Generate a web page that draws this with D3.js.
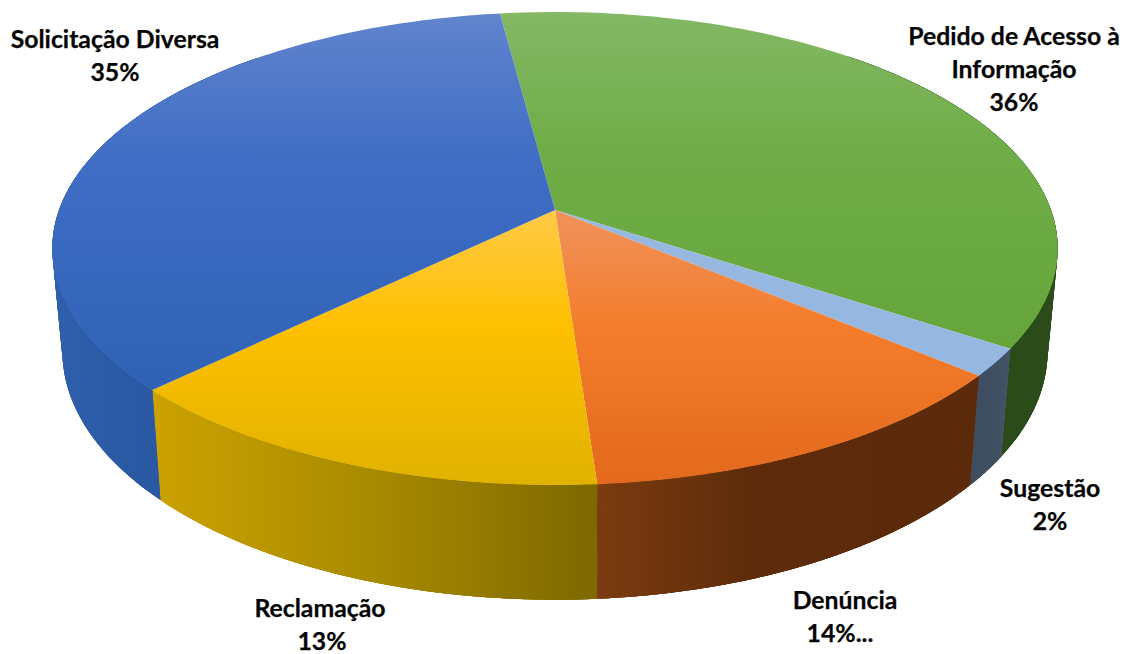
<!DOCTYPE html>
<html><head><meta charset="utf-8">
<script src="https://cdn.jsdelivr.net/npm/d3@7/dist/d3.min.js"></script>
<style>html,body{margin:0;background:#fff}svg{display:block}text{font-family:Lato,"Open Sans",sans-serif;font-weight:700;font-size:24.8px;fill:#050505;stroke:#050505;stroke-width:0.25px;text-anchor:middle}</style>
</head><body><svg id="c" width="1126" height="654"></svg>
<script>
// data
const categories = ["Pedido de Acesso à Informação","Sugestão","Denúncia","Reclamação","Solicitação Diversa"];
const sliceValues = [36.3,1.9,12.72,13.93,35.15];
const labelLines = [["Pedido de Acesso à","Informação","36%"],["Sugestão","2%"],["Denúncia","14%..."],["Reclamação","13%"],["Solicitação Diversa","35%"]];
// styles
const topStops = [["#84b865","#70ad48","#65a53a"],["#95b7e0","#95b7e0","#95b7e0"],["#f0925c","#f47d2c","#e3691c"],["#ffca48","#fec000","#e0b200"],["#6184cd","#3f6dc4","#2f62b5"]];
const sideStops = [["#27451a","#2a4a18","#2b4c1a"],["#3e4e60","#3f5062","#435467"],["#7c3b10","#5e2c0b","#5b2a0a"],["#cca200","#a88a00","#7d6800"],["#2f5fac","#2a58a2","#24509a"]];
const sideMid = [0.5,0.5,0.4,0.5,0.5];
// geometry
const W=1126,H=654, persp=0.1628, startDeg=-7.4;
const topX=d3.scaleLinear().domain([-1,1]).range([59,1051]);
const topY=d3.scaleLinear().domain([-1,1]).range([-20.2,440.2]);
const baseX=d3.scaleLinear().domain([-1,1]).range([69,1041]);
const baseY=d3.scaleLinear().domain([-1,1]).range([69.3,552.7]);
const proj=(a,sx,sy)=>{const u=Math.sin(a),v=-Math.cos(a),d=1-persp*v;return [sx(u/d),sy(v/d)];};
const pie=d3.pie().sort(null).startAngle(startDeg*Math.PI/180).endAngle((startDeg+360)*Math.PI/180);
const arcs=pie(sliceValues);
const svg=d3.select("#c"),defs=svg.append("defs");
const line=d3.line();
const samples=(a0,a1)=>d3.range(0,121).map(i=>a0+(a1-a0)*i/120);
// sides: the arc facing the viewer plus the silhouette shoulders; the top surface hides the rest
arcs.forEach((d,i)=>{
  const as=samples(d.startAngle,d.endAngle).filter(a=>Math.cos(a)<0.75);
  if(as.length<2) return;
  const t=as.map(a=>proj(a,topX,topY)), b=as.map(a=>proj(a,baseX,baseY));
  const [x0,x1]=d3.extent(t,p=>p[0]);
  const id="s"+i;
  const g=defs.append("linearGradient").attr("id",id).attr("gradientUnits","userSpaceOnUse")
    .attr("x1",x0).attr("x2",x1).attr("y1",0).attr("y2",0);
  sideStops[i].forEach((c,k)=>g.append("stop").attr("offset",k==1?sideMid[i]:k/2).attr("stop-color",c));
  const group=svg.append("g").attr("fill",`url(#${id})`);
  group.append("path").attr("d",line([...t,...b.slice().reverse()])+"Z");
  // overlapping swept quads fill the straight silhouette between the top rim and the base rim
  d3.range(0,t.length-3).forEach(k=>{
    group.append("path").attr("d",line([t[k],t[k+3],b[k+3],b[k]])+"Z");
  });
});
// top surfaces
const center=[topX(0),topY(0)];
arcs.forEach((d,i)=>{
  const t=samples(d.startAngle,d.endAngle).map(a=>proj(a,topX,topY));
  const pts=[center,...t];
  const [y0,y1]=d3.extent(pts,p=>p[1]);
  const id="t"+i;
  const g=defs.append("linearGradient").attr("id",id).attr("gradientUnits","userSpaceOnUse")
    .attr("x1",0).attr("x2",0).attr("y1",y0).attr("y2",y1);
  topStops[i].forEach((c,k)=>g.append("stop").attr("offset",k==1?(i==3||i==2?0.42:0.4):k/2).attr("stop-color",c));
  svg.append("path").attr("d",line(pts)+"Z").attr("fill",`url(#${id})`);
});
// labels
const labelAnchors=[[1014,45],[1050,497],[845,609],[320,617],[115,48]];
const lineShift=[[0,0,0],[0,0],[0,-5],[0,2],[0,0]];
const lineGap=33;
labelLines.forEach((ls,i)=>{
  const tx=svg.append("text").attr("aria-label",categories[i]);
  ls.forEach((s,k)=>tx.append("tspan").attr("x",labelAnchors[i][0]+lineShift[i][k]).attr("y",labelAnchors[i][1]+k*lineGap).text(s));
});
</script></body></html>
